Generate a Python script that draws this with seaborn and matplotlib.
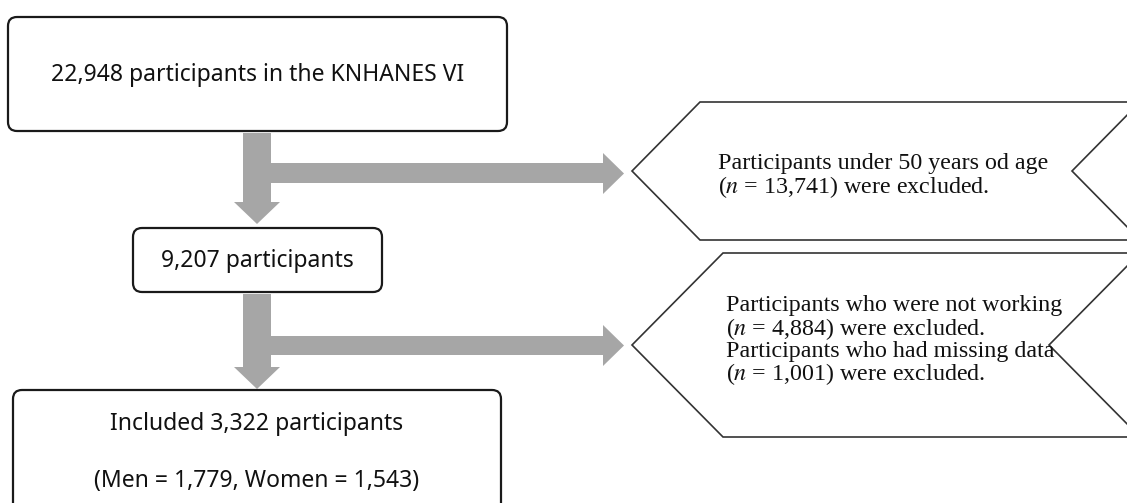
import matplotlib
matplotlib.use("Agg")
import matplotlib.pyplot as plt
import seaborn as sns
from matplotlib.patches import FancyBboxPatch, Polygon

# --- data: participant counts in the flow ---
total_n = 22948
under50_n = 13741
after_age_n = 9207
not_working_n = 4884
missing_n = 1001
included_n = 3322
men_n = 1779
women_n = 1543

box_labels = [
    [f"{total_n:,} participants in the KNHANES VI"],
    [f"{after_age_n:,} participants"],
    [f"Included {included_n:,} participants", f"(Men = {men_n:,}, Women = {women_n:,})"],
]
excl_labels = [
    ["Participants under 50 years od age",
     rf"($\it{{n}}$ = {under50_n:,}) were excluded."],
    ["Participants who were not working",
     rf"($\it{{n}}$ = {not_working_n:,}) were excluded.",
     "Participants who had missing data",
     rf"($\it{{n}}$ = {missing_n:,}) were excluded."],
]

# --- layout (pixels, y downwards) ---
W, H = 1127, 503
boxes = [(8, 17, 507, 131), (133, 228, 382, 292), (13, 390, 501, 520)]
box_text_y = [[75], [261], [424, 481]]
chevrons = [(632, 700, 1140, 102, 240), (632, 723, 1140, 253, 437)]
excl_text_x = [718, 726]
excl_text_y = [[164, 187], [306, 329, 351, 374]]
# vertical arrows: (y_start, y_headbase, y_tip); branches: (y0, y1, hy0, hy1)
v_arrows = [(133, 202, 224), (294, 367, 389)]
branches = [(163, 183, 153, 194), (336, 355, 325, 366)]
cx, shaft_half, head_half = 257, 14, 23
branch_head_x, branch_tip_x = 603, 624
GRAY = "#a6a6a6"

sns.set_theme(style="white")
plt.rcParams["mathtext.fontset"] = "stix"

fig = plt.figure(figsize=(W / 100, H / 100), dpi=100)
ax = fig.add_axes([0, 0, 1, 1])
ax.set_xlim(0, W)
ax.set_ylim(H, 0)
ax.axis("off")

# arrows
for (y0, yb, yt), (by0, by1, hy0, hy1) in zip(v_arrows, branches):
    ax.add_patch(Polygon([(cx - shaft_half, y0), (cx + shaft_half, y0),
                          (cx + shaft_half, yb), (cx + head_half, yb),
                          (cx, yt), (cx - head_half, yb),
                          (cx - shaft_half, yb)], closed=True,
                         facecolor=GRAY, edgecolor="none", zorder=1))
    ax.add_patch(Polygon([(cx + shaft_half, by0), (branch_head_x, by0),
                          (branch_head_x, hy0), (branch_tip_x, (hy0 + hy1) / 2),
                          (branch_head_x, hy1), (branch_head_x, by1),
                          (cx + shaft_half, by1)], closed=True,
                         facecolor=GRAY, edgecolor="none", zorder=1))

# rounded boxes
for (x0, y0, x1, y1), lines, ys in zip(boxes, box_labels, box_text_y):
    ax.add_patch(FancyBboxPatch((x0, y0), x1 - x0, y1 - y0,
                                boxstyle="round,pad=0,rounding_size=9",
                                facecolor="white", edgecolor="#1a1a1a",
                                linewidth=1.6, zorder=2))
    for txt, ty in zip(lines, ys):
        ax.text((x0 + x1) / 2, ty, txt, ha="center", va="center",
                fontsize=16.5, family=["Noto Sans", "DejaVu Sans"],
                color="#111111", zorder=3)

# exclusion chevrons
for (tip, xl, xr, top, bot), lines, tx, ys in zip(chevrons, excl_labels,
                                                   excl_text_x, excl_text_y):
    mid = (top + bot) / 2
    notch = xr - (xl - tip)
    ax.add_patch(Polygon([(tip, mid), (xl, top), (xr, top), (notch, mid),
                          (xr, bot), (xl, bot)], closed=True,
                         facecolor="white", edgecolor="#333333",
                         linewidth=1.2, zorder=2))
    for txt, ty in zip(lines, ys):
        ax.text(tx, ty, txt, ha="left", va="center", fontsize=17.3,
                family=["Liberation Serif", "DejaVu Serif"],
                color="#111111", zorder=3)

fig.savefig("out.png", dpi=100)
